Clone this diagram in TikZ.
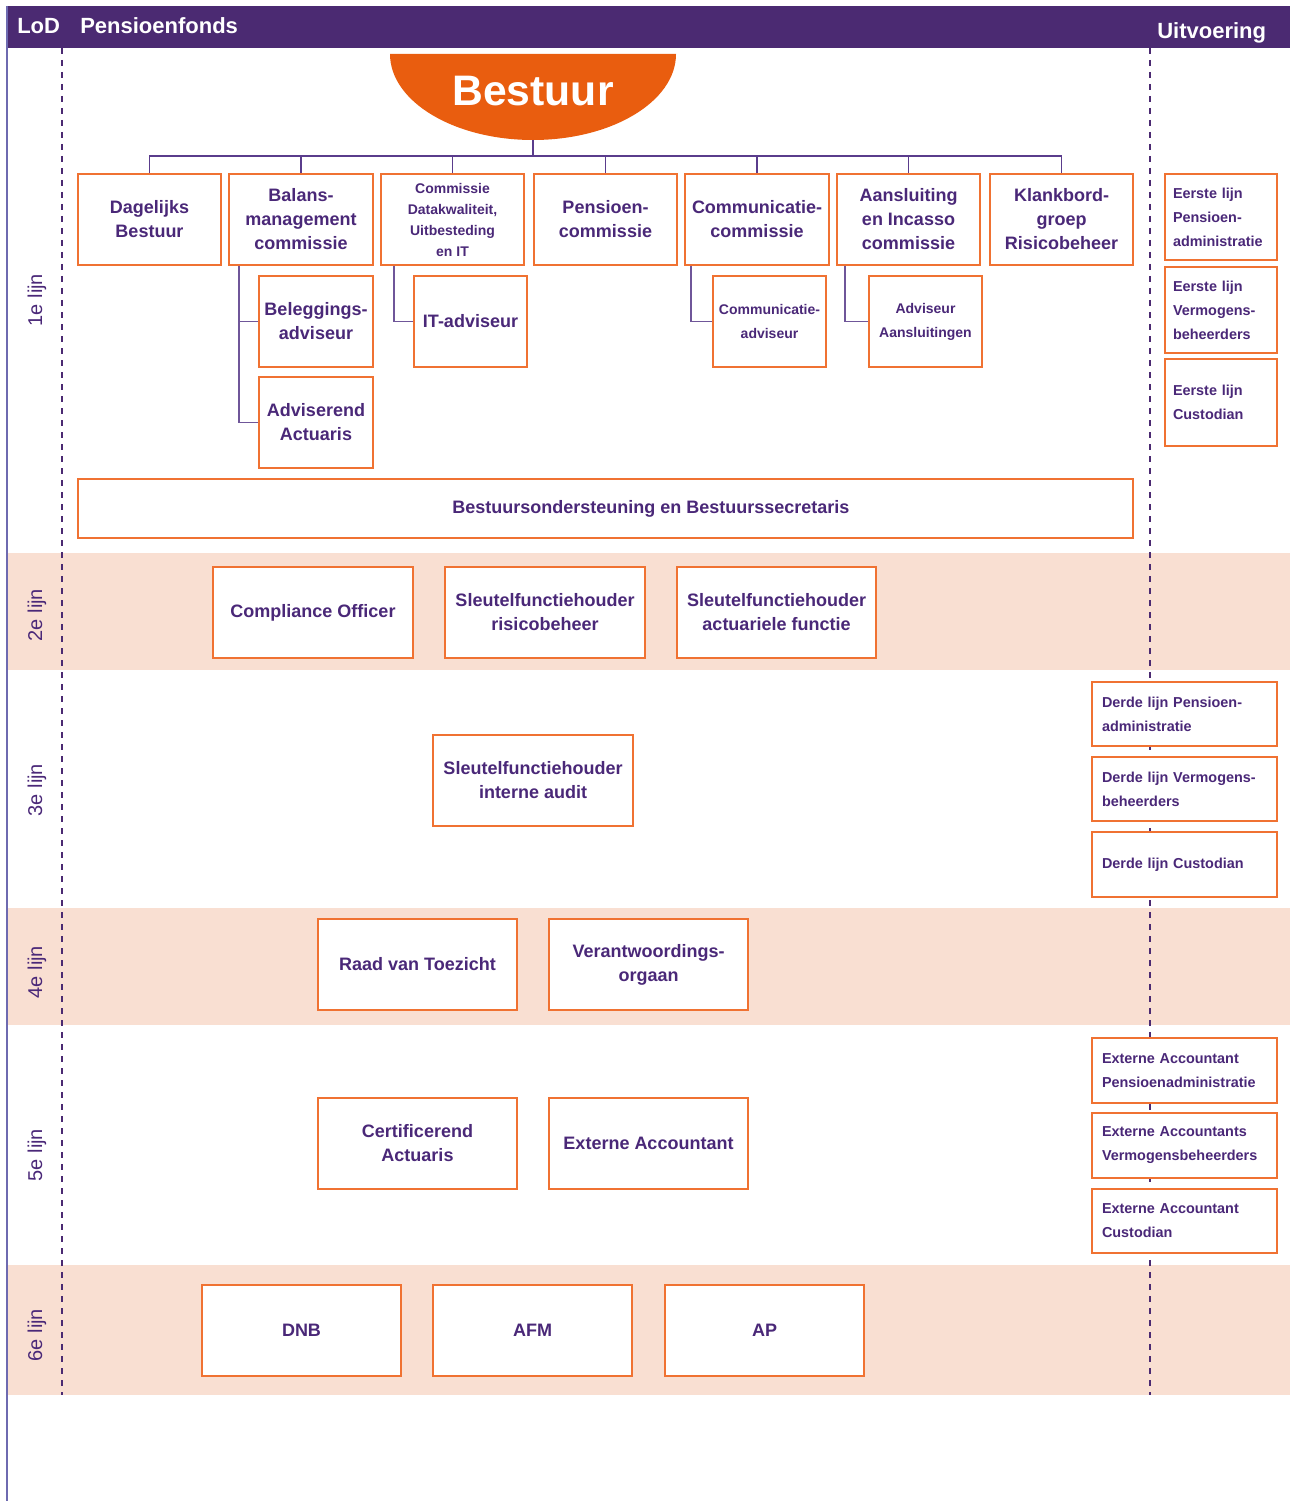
\documentclass[tikz,border=0pt]{standalone}
\usepackage{fontspec}
\setmainfont{Liberation Sans}
\usetikzlibrary{calc}
\definecolor{hdr}{HTML}{4B2A72}
\definecolor{txt}{HTML}{4A2878}
\definecolor{bord}{HTML}{F07232}
\definecolor{bestuurfill}{HTML}{E95D0F}
\definecolor{band}{HTML}{F9DFD2}
\definecolor{leftline}{HTML}{6E6AB0}
\definecolor{treec}{HTML}{5A3C8C}
\definecolor{subc}{HTML}{6F5699}
\newcommand{\bigf}{\fontsize{13.5}{18}\selectfont\bfseries}
\newcommand{\smallf}{\fontsize{10.8}{18}\selectfont\bfseries}
\newcommand{\tinyf}{\fontsize{10.5}{15.75}\selectfont\bfseries}
\begin{document}
\begin{tikzpicture}[x=0.75pt,y=-0.75pt,
  box/.style={draw=bord, line width=1.3pt, fill=white, text=txt, font=\bigf, align=center, inner sep=0pt},
  wh/.style 2 args={minimum width=#1*0.75pt, minimum height=#2*0.75pt},
  lbox/.style={box, font=\smallf, align=left, inner xsep=#1*0.75pt, inner ysep=0pt},
  tree/.style={draw=treec, line width=1.4pt},
  subline/.style={draw=subc, line width=1.4pt},
  dashv/.style={draw=hdr, line width=1.2pt, dash pattern=on 4.5pt off 4.5pt},
  lane/.style={text=txt, font=\fontsize{15}{18}\selectfont, rotate=90},
  hdrtext/.style={text=white, font=\fontsize{16.5}{20}\selectfont\bfseries, inner sep=0pt}
]
\useasboundingbox (0,0) rectangle (1290,1501);
% bands
\fill[band] (7,553) rectangle (1290,670);
\fill[band] (7,908) rectangle (1290,1025);
\fill[band] (7,1265) rectangle (1290,1395);
% header
\fill[hdr] (7,6) rectangle (1290,48);
\draw[leftline, line width=1.6pt] (7,6) -- (7,1501);
\node[hdrtext, anchor=base west] (lod) at (17,34) {LoD};
\node[hdrtext, anchor=base west] (pf) at (80,34) {Pensioenfonds};
\node[hdrtext, anchor=base west] (uit) at (1157,39) {Uitvoering};
% dashed separators
\draw[dashv] (62,48) -- (62,1395);
\draw[dashv] (1150,48) -- (1150,1395);
% lane labels
\node[lane] (l1) at (37,300) {1e lijn};
\node[lane] (l2) at (37,615) {2e lijn};
\node[lane] (l3) at (37,790) {3e lijn};
\node[lane] (l4) at (37,972) {4e lijn};
\node[lane] (l5) at (37,1155) {5e lijn};
\node[lane] (l6) at (37,1335) {6e lijn};
% Bestuur
\fill[bestuurfill] (390,54) arc[start angle=180, end angle=0, x radius=143, y radius=86] -- cycle;
\node[text=white, font=\fontsize{32}{36}\selectfont\bfseries] (bestuur) at (533,91) {Bestuur};
\coordinate (bbot) at (533,140);
\coordinate (bar) at (533,156);
% top row
\node[box, wh={143}{91}] (dag) at (149.5,219.5) {Dagelijks\\Bestuur};
\node[box, wh={144}{91}] (bal) at (301,219.5) {Balans-\\management\\commissie};
\node[box, wh={143}{91}, font=\tinyf] (com) at (452.5,219.5) {Commissie\\Datakwaliteit,\\Uitbesteding\\en IT};
\node[box, wh={143}{91}] (pen) at (605.5,219.5) {Pensioen-\\commissie};
\node[box, wh={144}{91}] (cmm) at (757,219.5) {Communicatie-\\commissie};
\node[box, wh={143}{91}] (aan) at (908.5,219.5) {Aansluiting\\en Incasso\\commissie};
\node[box, wh={143}{91}] (kla) at (1061.5,219.5) {Klankbord-\\groep\\Risicobeheer};
% tree
\draw[tree] (bbot) -- (bar);
\draw[tree] (dag.north) -- (dag.north |- bar) -- (kla.north |- bar) -- (kla.north);
\foreach \n in {bal,com,pen,cmm,aan} \draw[tree] (\n.north) -- (\n.north |- bar);
% sub boxes
\node[box, wh={114}{91}] (bel) at (316,321.5) {Beleggings-\\adviseur};
\node[box, wh={114}{91}] (adv) at (316,422.5) {Adviserend\\Actuaris};
\node[box, wh={113}{91}] (ita) at (470.5,321.5) {IT-adviseur};
\node[box, wh={113}{91}, font=\fontsize{10.5}{18}\selectfont\bfseries] (cad) at (769.5,321.5) {Communicatie-\\adviseur};
\node[box, wh={113}{91}, font=\fontsize{10.5}{18}\selectfont\bfseries] (aad) at (925.5,321.5) {Adviseur\\Aansluitingen};
\draw[subline] ($(bal.south west)+(11,0)$) |- (bel.west);
\draw[subline] ($(bal.south west)+(11,0)$) |- (adv.west);
\draw[subline] ($(com.south west)+(14,0)$) |- (ita.west);
\draw[subline] ($(cmm.south west)+(7,0)$) |- (cad.west);
\draw[subline] ($(aan.south west)+(9,0)$) |- (aad.west);
% Bestuursondersteuning
\node[box, wh={1055}{59}, font=\fontsize{13.5}{18}\selectfont\bfseries] (bo) at (605.5,508.5) {\hspace*{68pt}\raisebox{-2pt}{Bestuursondersteuning en Bestuurssecretaris}};
% Eerste lijn
\node[lbox=8, text width=96*0.75pt, minimum height=86*0.75pt] (e1) at (1221,217) {Eerste lijn\\Pensioen-\\administratie};
\node[lbox=8, text width=96*0.75pt, minimum height=86*0.75pt] (e2) at (1221,310) {Eerste lijn\\Vermogens-\\beheerders};
\node[lbox=8, text width=96*0.75pt, minimum height=87*0.75pt] (e3) at (1221,402.5) {Eerste lijn\\Custodian};
% 2e lijn
\node[box, wh={200}{91}] (cof) at (313,612.5) {Compliance Officer};
\node[box, wh={200}{91}] (sfr) at (545,612.5) {Sleutelfunctiehouder\\risicobeheer};
\node[box, wh={199}{91}] (sfa) at (776.5,612.5) {Sleutelfunctiehouder\\actuariele functie};
% 3e lijn
\node[box, wh={200}{91}] (sfi) at (533,780.5) {Sleutelfunctiehouder\\interne audit};
\node[lbox=10, text width=165*0.75pt, minimum height=64*0.75pt] (d1) at (1184.5,714) {Derde lijn Pensioen-\\administratie};
\node[lbox=10, text width=165*0.75pt, minimum height=64*0.75pt] (d2) at (1184.5,789) {Derde lijn Vermogens-\\beheerders};
\node[lbox=10, text width=165*0.75pt, minimum height=65*0.75pt] (d3) at (1184.5,864.5) {Derde lijn Custodian};
% 4e lijn
\node[box, wh={199}{91}] (rvt) at (417.5,964.5) {Raad van Toezicht};
\node[box, wh={199}{91}] (vo) at (648.5,964.5) {Verantwoordings-\\orgaan};
% 5e lijn
\node[box, wh={199}{91}] (ca) at (417.5,1143.5) {Certificerend\\Actuaris};
\node[box, wh={199}{91}] (ea) at (648.5,1143.5) {Externe Accountant};
\node[lbox=10, text width=165*0.75pt, minimum height=65*0.75pt] (x1) at (1184.5,1070.5) {Externe Accountant\\Pensioenadministratie};
\node[lbox=10, text width=165*0.75pt, minimum height=65*0.75pt] (x2) at (1184.5,1145.5) {Externe Accountants\\Vermogensbeheerders};
\node[lbox=10, text width=165*0.75pt, minimum height=64*0.75pt] (x3) at (1184.5,1221) {Externe Accountant\\Custodian};
% 6e lijn
\node[box, wh={199}{91}] (dnb) at (301.5,1330.5) {DNB};
\node[box, wh={199}{91}] (afm) at (532.5,1330.5) {AFM};
\node[box, wh={199}{91}] (ap) at (764.5,1330.5) {AP};
\end{tikzpicture}
\end{document}
